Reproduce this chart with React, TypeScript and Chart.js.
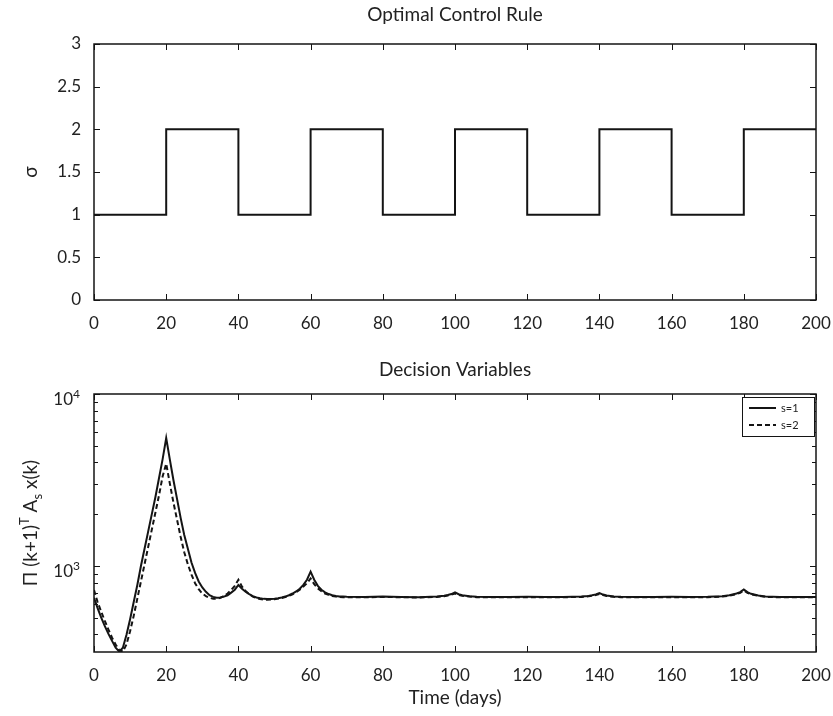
import React, { useEffect, useRef } from 'react';
import { Chart, registerables } from 'chart.js';
Chart.register(...registerables);

// ---------- data ----------
const xTickValues = [0, 20, 40, 60, 80, 100, 120, 140, 160, 180, 200];

const sigmaDays = [0, 20, 40, 60, 80, 100, 120, 140, 160, 180, 200];
const sigmaValues = [1, 2, 1, 2, 1, 2, 1, 2, 1, 2, 2];
const sigmaYTicks = [0, 0.5, 1, 1.5, 2, 2.5, 3];

const days = [
  0, 1, 2, 3, 4, 5, 6, 7, 8, 9, 10, 11, 12, 13, 14, 15, 16, 17, 18, 19, 20,
  21, 22, 23, 24, 25, 26, 27, 28, 29, 30, 31, 32, 33, 34, 35, 36, 37, 38, 39, 40,
  41, 42, 43, 44, 45, 46, 47, 48, 49, 50, 51, 52, 53, 54, 55, 56, 57, 58, 59, 60,
  61, 62, 63, 64, 65, 66, 67, 68, 69, 70, 75, 80, 85, 90, 95, 97, 98, 99, 100,
  101, 102, 104, 106, 110, 115, 120, 125, 130, 135, 137, 138, 139, 140,
  141, 142, 144, 146, 150, 155, 160, 165, 170, 174, 176, 178, 179, 180,
  181, 182, 184, 186, 190, 195, 200,
];

const s1Values = [
  653, 569, 501, 447, 403, 367, 335, 318, 335, 398, 490, 617, 776, 1000, 1259, 1585, 1995, 2512, 3236, 4169, 5546,
  4169, 3162, 2455, 1905, 1514, 1259, 1047, 912, 813, 750, 708, 676, 661, 653, 656, 664, 676, 700, 728, 776,
  738, 708, 685, 668, 656, 649, 644, 643, 643, 646, 650, 656, 664, 676, 692, 711, 738, 776, 832, 927,
  832, 767, 728, 703, 687, 676, 670, 665, 664, 662, 661, 664, 661, 659, 664, 671, 678, 687, 702,
  685, 676, 667, 662, 661, 661, 662, 661, 661, 664, 670, 676, 684, 697,
  682, 673, 665, 662, 661, 661, 662, 661, 662, 668, 676, 692, 705, 731,
  705, 689, 673, 665, 661, 661, 661,
];

const s2Values = [
  724, 617, 543, 479, 427, 383, 350, 324, 318, 350, 418, 513, 646, 813, 1023, 1288, 1622, 2042, 2570, 3311, 3936,
  3020, 2344, 1862, 1479, 1202, 1023, 891, 794, 733, 692, 668, 653, 646, 646, 653, 668, 692, 724, 767, 832,
  759, 716, 685, 664, 650, 643, 638, 637, 638, 641, 646, 652, 661, 671, 685, 705, 728, 759, 794, 847,
  785, 741, 713, 692, 679, 670, 664, 661, 659, 658, 658, 661, 658, 656, 661, 667, 673, 681, 692,
  679, 671, 664, 659, 658, 658, 659, 658, 658, 661, 666, 672, 679, 688,
  677, 669, 662, 659, 658, 658, 659, 658, 659, 664, 672, 686, 698, 720,
  699, 684, 670, 662, 658, 658, 658,
];

const logMajorTicks = [1000, 10000];
const logMajorExponents = ['3', '4'];
const logMinorTicks = [400, 500, 600, 700, 800, 900, 2000, 3000, 4000, 5000, 6000, 7000, 8000, 9000];

const seriesLabels = ['s=1', 's=2'];

// ---------- styling ----------
const FONT = 'Lato, "Open Sans", "DejaVu Sans", sans-serif';
const TEXT = '#222222';
const LINE = '#141414';
const TICK_SIZE = 17;
const LABEL_SIZE = 19;

type Seg = { t: string; sup?: boolean; sub?: boolean };

function drawRich(ctx: CanvasRenderingContext2D, segs: Seg[], x: number, y: number, size: number, align: 'center' | 'right') {
  const widths = segs.map((s) => {
    ctx.font = `${s.sup || s.sub ? Math.round(size * 0.68) : size}px ${FONT}`;
    return ctx.measureText(s.t).width;
  });
  const total = widths.reduce((a, b) => a + b, 0);
  let cx = align === 'center' ? x - total / 2 : x - total;
  ctx.textAlign = 'left';
  ctx.textBaseline = 'alphabetic';
  segs.forEach((s, i) => {
    ctx.font = `${s.sup || s.sub ? Math.round(size * 0.68) : size}px ${FONT}`;
    const dy = s.sup ? -size * 0.42 : s.sub ? size * 0.25 : 0;
    ctx.fillText(s.t, cx, y + dy);
    cx += widths[i];
  });
}

const framePlugin = {
  id: 'frame',
  afterDraw(chart: any, _args: any, opts: any) {
    const { ctx, chartArea: a, scales } = chart;
    ctx.save();
    ctx.strokeStyle = LINE;
    ctx.lineWidth = 1;
    const seg = (x1: number, y1: number, x2: number, y2: number) => {
      ctx.beginPath();
      ctx.moveTo(x1, y1);
      ctx.lineTo(x2, y2);
      ctx.stroke();
    };
    for (const v of opts.xTicks) {
      const px = Math.round(scales.x.getPixelForValue(v)) + 0.5;
      seg(px, a.bottom, px, a.bottom - 6);
      seg(px, a.top, px, a.top + 6);
    }
    for (const v of opts.yMajor) {
      const py = Math.round(scales.y.getPixelForValue(v)) + 0.5;
      seg(a.left, py, a.left + 6, py);
      seg(a.right, py, a.right - 6, py);
    }
    for (const v of opts.yMinor || []) {
      const py = Math.round(scales.y.getPixelForValue(v)) + 0.5;
      seg(a.left, py, a.left + 4, py);
      seg(a.right, py, a.right - 4, py);
    }
    ctx.lineWidth = 1.5;
    ctx.strokeRect(a.left, a.top, a.right - a.left, a.bottom - a.top);

    ctx.fillStyle = TEXT;
    ctx.font = `${LABEL_SIZE}px ${FONT}`;
    ctx.textAlign = 'center';
    ctx.textBaseline = 'alphabetic';
    ctx.fillText(opts.title, (a.left + a.right) / 2, a.top - opts.titleOffset);
    if (opts.xLabel) {
      ctx.fillText(opts.xLabel, (a.left + a.right) / 2, a.bottom + 52);
    }
    ctx.save();
    ctx.translate(opts.yLabelX, (a.top + a.bottom) / 2);
    ctx.rotate(-Math.PI / 2);
    drawRich(ctx, opts.yLabel, 0, 6, LABEL_SIZE, 'center');
    ctx.restore();

    if (opts.logLabels) {
      opts.logLabels.forEach((v: number, i: number) => {
        const py = scales.y.getPixelForValue(v);
        ctx.fillStyle = TEXT;
        drawRich(ctx, [{ t: '10' }, { t: opts.logExp[i], sup: true }], a.left - 14, py + 11, TICK_SIZE, 'right');
      });
    }

    if (opts.legend) {
      const w = 72, h = 39;
      const lx = a.right - w - 2, ly = a.top + 3;
      ctx.fillStyle = '#ffffff';
      ctx.fillRect(lx, ly, w, h);
      ctx.lineWidth = 1;
      ctx.strokeStyle = LINE;
      ctx.strokeRect(lx + 0.5, ly + 0.5, w, h);
      const dsets = chart.data.datasets;
      dsets.forEach((ds: any, i: number) => {
        const yy = ly + 11 + i * 17;
        ctx.lineWidth = 2;
        ctx.setLineDash(ds.borderDash || []);
        ctx.beginPath();
        ctx.moveTo(lx + 7, yy);
        ctx.lineTo(lx + 34, yy);
        ctx.stroke();
        ctx.setLineDash([]);
        ctx.fillStyle = TEXT;
        ctx.font = `11px ${FONT}`;
        ctx.textAlign = 'left';
        ctx.textBaseline = 'middle';
        ctx.fillText(ds.label, lx + 39, yy);
      });
    }
    ctx.restore();
  },
};

const xFit = (h: number) => (s: any) => {
  s.height = h;
  s.paddingLeft = 0;
  s.paddingRight = 0;
};
const yFit = (s: any) => {
  s.width = 94;
  s.paddingTop = 0;
  s.paddingBottom = 0;
};

function TopChart() {
  const ref = useRef<HTMLCanvasElement>(null);
  useEffect(() => {
    const chart = new Chart(ref.current!, {
      type: 'line',
      data: {
        datasets: [
          {
            label: 'sigma',
            data: sigmaDays.map((d, i) => ({ x: d, y: sigmaValues[i] })),
            stepped: 'before',
            borderColor: LINE,
            borderWidth: 2,
            pointRadius: 0,
            fill: false,
          },
        ],
      },
      options: {
        animation: false,
        responsive: false,
        layout: { padding: { left: 0, right: 17, top: 44, bottom: 0 } },
        plugins: {
          legend: { display: false },
          tooltip: { enabled: false },
          frame: {
            xTicks: xTickValues,
            yMajor: sigmaYTicks,
            title: 'Optimal Control Rule',
            titleOffset: 23,
            yLabel: [{ t: 'σ' }],
            yLabelX: 31,
          },
        } as any,
        scales: {
          x: {
            type: 'linear',
            min: 0,
            max: 200,
            afterBuildTicks: (s: any) => { s.ticks = xTickValues.map((v) => ({ value: v })); },
            afterFit: xFit(50),
            grid: { display: false, drawTicks: false },
            border: { display: false },
            ticks: { padding: 13, color: TEXT, font: { family: FONT, size: TICK_SIZE }, maxRotation: 0 },
          },
          y: {
            type: 'linear',
            min: 0,
            max: 3,
            afterBuildTicks: (s: any) => { s.ticks = sigmaYTicks.map((v) => ({ value: v })); },
            afterFit: yFit,
            grid: { display: false, drawTicks: false },
            border: { display: false },
            ticks: {
              padding: 13,
              color: TEXT,
              font: { family: FONT, size: TICK_SIZE },
              callback: (v: any) => String(v),
            },
          },
        },
      },
      plugins: [framePlugin],
    });
    return () => chart.destroy();
  }, []);
  return <canvas ref={ref} width={833} height={350} style={{ position: 'absolute', left: 0, top: 0 }} />;
}

function BottomChart() {
  const ref = useRef<HTMLCanvasElement>(null);
  useEffect(() => {
    const chart = new Chart(ref.current!, {
      type: 'line',
      data: {
        datasets: [
          {
            label: seriesLabels[0],
            data: days.map((d, i) => ({ x: d, y: s1Values[i] })),
            borderColor: LINE,
            borderWidth: 2,
            pointRadius: 0,
            tension: 0,
            fill: false,
          },
          {
            label: seriesLabels[1],
            data: days.map((d, i) => ({ x: d, y: s2Values[i] })),
            borderColor: LINE,
            borderWidth: 2,
            borderDash: [5, 3],
            pointRadius: 0,
            tension: 0,
            fill: false,
          },
        ],
      },
      options: {
        animation: false,
        responsive: false,
        layout: { padding: { left: 0, right: 17, top: 44, bottom: 0 } },
        plugins: {
          legend: { display: false },
          tooltip: { enabled: false },
          frame: {
            xTicks: xTickValues,
            yMajor: logMajorTicks,
            yMinor: logMinorTicks,
            title: 'Decision Variables',
            titleOffset: 18,
            xLabel: 'Time (days)',
            yLabel: [
              { t: 'Π (k+1)' },
              { t: 'T', sup: true },
              { t: ' A' },
              { t: 's', sub: true },
              { t: ' x(k)' },
            ],
            yLabelX: 31,
            logLabels: logMajorTicks,
            logExp: logMajorExponents,
            legend: true,
          },
        } as any,
        scales: {
          x: {
            type: 'linear',
            min: 0,
            max: 200,
            afterBuildTicks: (s: any) => { s.ticks = xTickValues.map((v) => ({ value: v })); },
            afterFit: xFit(64),
            grid: { display: false, drawTicks: false },
            border: { display: false },
            ticks: { padding: 13, color: TEXT, font: { family: FONT, size: TICK_SIZE }, maxRotation: 0 },
          },
          y: {
            type: 'logarithmic',
            min: 316.2278,
            max: 10000,
            afterBuildTicks: (s: any) => { s.ticks = logMajorTicks.map((v) => ({ value: v })); },
            afterFit: yFit,
            grid: { display: false, drawTicks: false },
            border: { display: false },
            ticks: { display: false },
          },
        },
      },
      plugins: [framePlugin],
    });
    return () => chart.destroy();
  }, []);
  return <canvas ref={ref} width={833} height={366} style={{ position: 'absolute', left: 0, top: 350 }} />;
}

export default function App() {
  return (
    <div style={{ position: 'absolute', left: 0, top: 0, width: 833, height: 716, background: '#ffffff' }}>
      <TopChart />
      <BottomChart />
    </div>
  );
}
